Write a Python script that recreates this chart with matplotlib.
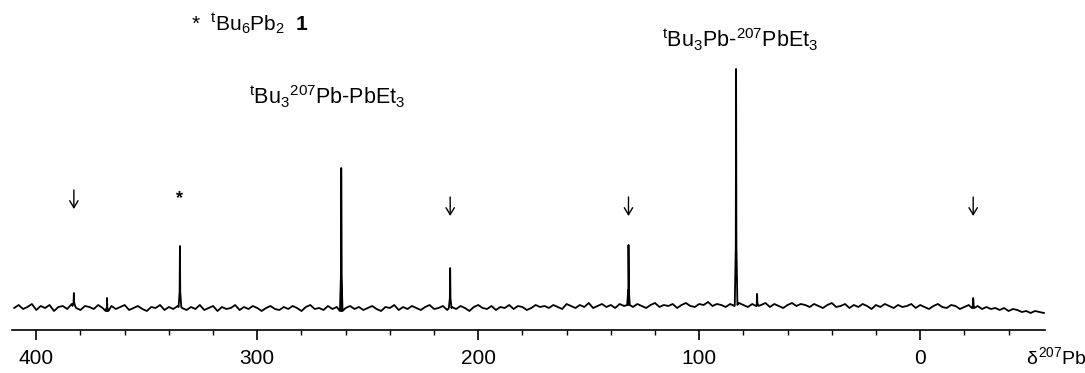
import numpy as np
import matplotlib
matplotlib.use("Agg")
import matplotlib.pyplot as plt

plt.rcParams['font.family'] = ['Liberation Sans', 'DejaVu Sans']
plt.rcParams['mathtext.fontset'] = 'custom'
plt.rcParams['mathtext.rm'] = 'Liberation Sans'
plt.rcParams['mathtext.it'] = 'Liberation Sans'
plt.rcParams['mathtext.bf'] = 'Liberation Sans:bold'

# --- data (ppm, intensity in arbitrary units) ---
base_start, base_step = 410.0, -2.0
baseline = [
    22, 25, 21, 23, 26, 20, 24, 22, 25, 19, 23, 24, 21, 26, 22, 20, 24, 23, 21, 25,
    22, 19, 24, 21, 23, 25, 20, 22, 24, 21, 19, 23, 22, 25, 20, 23, 21, 24, 22, 20,
    23, 21, 25, 20, 22, 24, 19, 23, 21, 22, 25, 20, 23, 21, 24, 22, 19, 22, 24, 21,
    20, 23, 21, 24, 22, 19, 23, 25, 21, 22, 20, 24, 21, 23, 19, 22, 24, 21, 23, 20,
    22, 24, 21, 19, 23, 22, 25, 20, 23, 21, 24, 22, 20, 23, 25, 21, 22, 24, 20, 23,
    21, 24, 22, 19, 23, 25, 22, 21, 24, 20, 23, 22, 25, 21, 24, 23, 20, 22, 25, 23,
    24, 22, 25, 23, 21, 26, 24, 22, 25, 23, 27, 22, 24, 26, 23, 25, 22, 26, 24, 25,
    23, 26, 24, 22, 25, 27, 23, 25, 24, 26, 22, 25, 27, 24, 23, 26, 25, 28, 24, 26,
    25, 23, 26, 24, 27, 25, 23, 26, 24, 25, 27, 23, 26, 24, 22, 25, 27, 24, 26, 25,
    23, 26, 24, 22, 25, 27, 23, 24, 26, 22, 25, 23, 26, 24, 21, 25, 23, 26, 24, 22,
    25, 23, 24, 26, 22, 25, 23, 21, 24, 26, 23, 22, 25, 24, 21, 23, 25, 22, 24, 21,
    23, 21, 22, 20, 22, 19, 21, 20, 18, 19, 17, 19, 18, 17,
]
peak_ppm = [383.0, 368.0, 335.0, 262.0, 212.7, 132.0, 83.3, 73.8, -24.0]
peak_height = [13, 13, 61, 143, 40, 60, 236, 12, 10]

arrow_ppm = [383.0, 212.7, 132.0, -24.0]
star_ppm = 335.0
major_ticks = [400, 300, 200, 100, 0]
minor_ticks = list(range(380, -60, -20))

# build spectrum trace
base_x = base_start + base_step * np.arange(len(baseline))
base_y = np.array(baseline, dtype=float)
xs = list(base_x)
ys = list(base_y)
for p, h in zip(peak_ppm, peak_height):
    b = np.interp(p, base_x[::-1], base_y[::-1])
    xs += [p + 0.6, p + 0.15, p, p - 0.15, p - 0.6]
    ys += [b, b + 0.25 * h, b + h, b + 0.25 * h, b]
order = np.argsort(xs)[::-1]
xs = np.array(xs)[order]
ys = np.array(ys)[order]

fig = plt.figure(figsize=(10.85, 3.73), dpi=100)
ax = fig.add_axes([12 / 1085, 43 / 373, 1033 / 1085, 330 / 373])
ax.plot(xs, ys, color='black', linewidth=1.3)

ax.set_xlim(411, -56.5)
ax.set_ylim(0, 330)
for s in ['left', 'right', 'top']:
    ax.spines[s].set_visible(False)
ax.spines['bottom'].set_linewidth(1.2)
ax.set_yticks([])
ax.set_xticks(major_ticks)
ax.set_xticks(minor_ticks, minor=True)
ax.tick_params(axis='x', which='major', direction='out', length=7, width=1.2,
               labelsize=15, pad=7)
ax.tick_params(axis='x', which='minor', direction='out', length=3.5, width=1.0)

# annotations
for p in arrow_ppm:
    top = 140 if p > 300 else 133
    ax.annotate('', xy=(p, top - 19), xytext=(p, top),
                arrowprops=dict(arrowstyle='->,head_length=0.5,head_width=0.3',
                                color='black', lw=1.0, shrinkA=0, shrinkB=0))
ax.text(star_ppm, 131, '*', ha='center', va='center', fontsize=13, fontweight='bold')

ax.text(330.0, 306, r'*  $^{\mathrm{t}}$Bu$_6$Pb$_2$  $\mathbf{1}$', ha='left', va='center',
        fontsize=15)
ax.text(303.6, 233, r'$^{\mathrm{t}}$Bu$_3$$^{207}$Pb-PbEt$_3$', ha='left', va='center',
        fontsize=15.5)
ax.text(116.7, 290, r'$^{\mathrm{t}}$Bu$_3$Pb-$^{207}$PbEt$_3$', ha='left', va='center',
        fontsize=15.5)
ax.text(-48, -27, r'$\delta^{207}$Pb', ha='left', va='center', fontsize=14, clip_on=False)

fig.savefig('out.png', dpi=100)
